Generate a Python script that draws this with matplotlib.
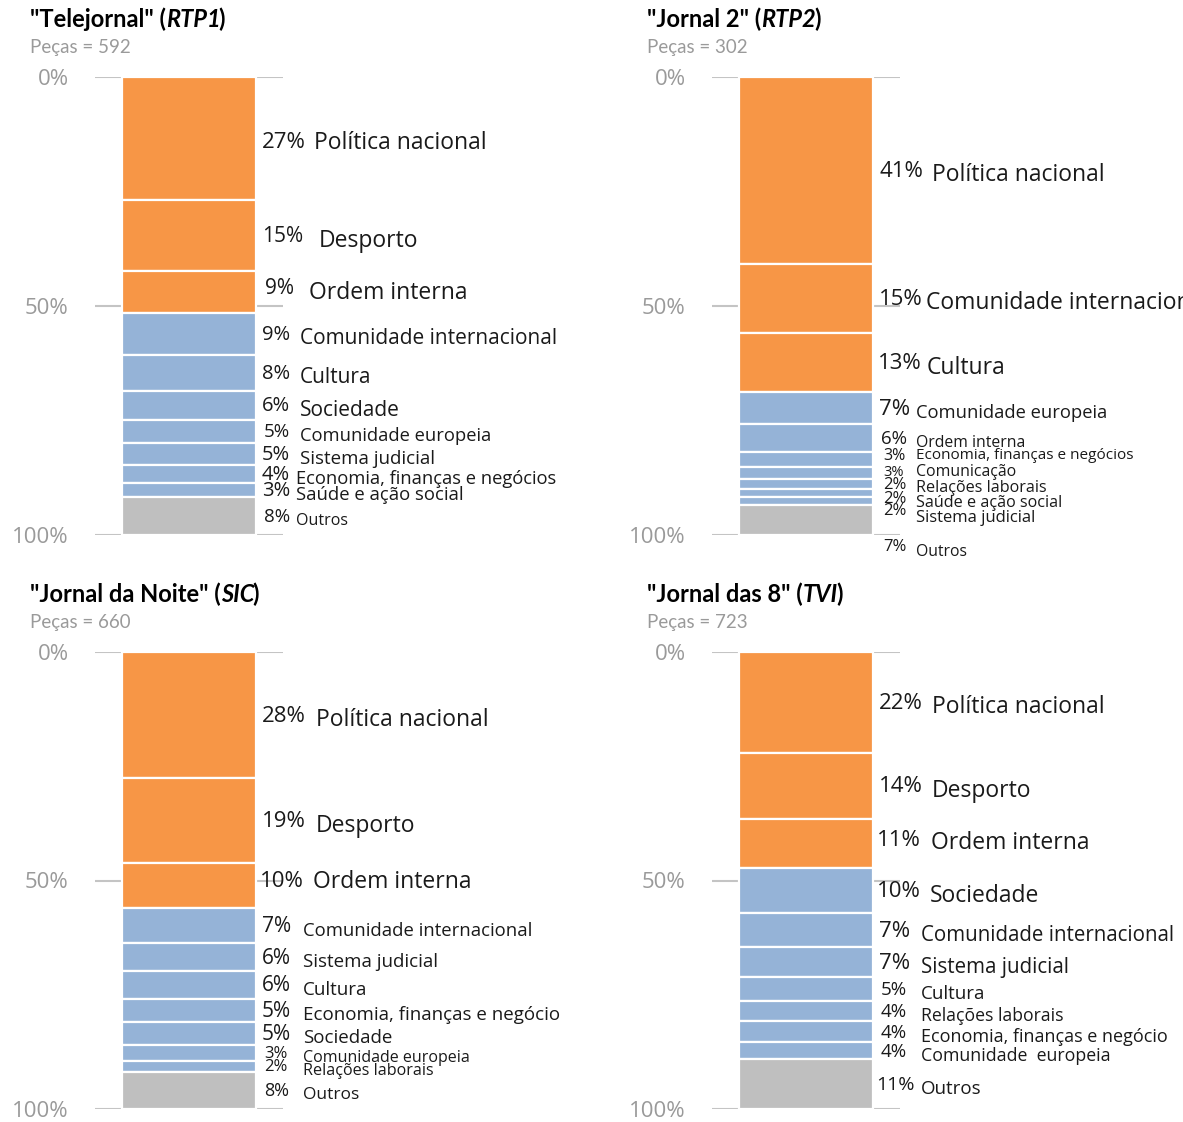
import matplotlib.pyplot as plt
import numpy as np

plt.rcParams["font.family"] = ["Open Sans", "DejaVu Sans"]

W, H = 1183, 1122
ORANGE = "#F79646"
BLUE = "#95B3D7"
GRAY = "#BFBFBF"
TICK_GRAY = "#9A9A9A"
INK = "#1a1a1a"

titles = ['"Telejornal"', '"Jornal 2"', '"Jornal da Noite"', '"Jornal das 8"']
channels = ["RTP1", "RTP2", "SIC", "TVI"]
pieces = [592, 302, 660, 723]

rtp1_topics = ["Política nacional", "Desporto", "Ordem interna", "Comunidade internacional",
               "Cultura", "Sociedade", "Comunidade europeia", "Sistema judicial",
               "Economia, finanças e negócios", "Saúde e ação social", "Outros"]
rtp1_share = [26.9, 15.5, 9.2, 9.0, 7.9, 6.3, 5.2, 4.8, 3.9, 3.1, 8.2]
rtp1_pct = [27, 15, 9, 9, 8, 6, 5, 5, 4, 3, 8]

rtp2_topics = ["Política nacional", "Comunidade internacional", "Cultura", "Comunidade europeia",
               "Ordem interna", "Economia, finanças e negócios", "Comunicação",
               "Relações laborais", "Saúde e ação social", "Sistema judicial", "Outros"]
rtp2_share = [40.8, 15.1, 12.9, 7.0, 6.1, 3.3, 2.6, 2.2, 1.7, 1.7, 6.6]
rtp2_pct = [41, 15, 13, 7, 6, 3, 3, 2, 2, 2, 7]

sic_topics = ["Política nacional", "Desporto", "Ordem interna", "Comunidade internacional",
              "Sistema judicial", "Cultura", "Economia, finanças e negócio", "Sociedade",
              "Comunidade europeia", "Relações laborais", "Outros"]
sic_share = [27.6, 18.6, 9.8, 7.7, 6.1, 6.1, 5.0, 5.0, 3.5, 2.4, 8.2]
sic_pct = [28, 19, 10, 7, 6, 6, 5, 5, 3, 2, 8]

tvi_topics = ["Política nacional", "Desporto", "Ordem interna", "Sociedade",
              "Comunidade internacional", "Sistema judicial", "Cultura", "Relações laborais",
              "Economia, finanças e negócio", "Comunidade  europeia", "Outros"]
tvi_share = [22.1, 14.4, 10.7, 10.0, 7.4, 6.6, 5.2, 4.4, 4.6, 3.7, 10.9]
tvi_pct = [22, 14, 11, 10, 7, 7, 5, 4, 4, 4, 11]

panels = [
    (rtp1_topics, rtp1_share, rtp1_pct),
    (rtp2_topics, rtp2_share, rtp2_pct),
    (sic_topics, sic_share, sic_pct),
    (tvi_topics, tvi_share, tvi_pct),
]

# label styling per panel: font sizes (pct, name) and x offsets in px from bar edge
pct_size = [
    [16, 15, 15, 14.5, 14.5, 14.5, 13.5, 14.5, 14.5, 14.5, 13.5],
    [16, 16, 16, 16, 13.5, 11.5, 10.5, 12, 12, 12, 12],
    [16, 16, 16, 15, 15, 15, 15, 15, 12, 12, 13],
    [16, 16, 16, 16, 16, 16, 13.5, 13.5, 13.5, 13.5, 14],
]
name_size = [
    [16.5, 16.5, 16.5, 15, 15, 15, 13.2, 13.5, 13.2, 13.3, 11.5],
    [16.5, 16.5, 16.5, 13.2, 11.3, 11, 11.4, 11.6, 11.6, 12, 11.3],
    [16.5, 16.5, 16.5, 13.3, 13.5, 13.5, 13.5, 13.5, 11.5, 11.6, 12.5],
    [16.5, 16.5, 16.5, 16.5, 14.8, 14.8, 13.5, 12.7, 13, 12.8, 13.5],
]
pct_dx = [
    [6, 6, 9, 6, 6, 6, 8, 6, 6, 6, 8],
    [6, 6, 5, 6, 8, 10, 10, 10, 10, 10, 10],
    [6, 6, 4, 6, 6, 6, 6, 6, 8, 8, 8],
    [6, 6, 4, 4, 6, 6, 8, 8, 8, 8, 3],
]
name_dx = [
    [58, 63, 53, 44, 44, 44, 44, 44, 40, 40, 40],
    [59, 53, 54, 43, 43, 43, 43, 43, 43, 43, 43],
    [60, 60, 57, 47, 47, 47, 47, 47, 47, 47, 47],
    [59, 59, 58, 57, 48, 48, 48, 48, 48, 48, 48],
]
# vertical nudges in px: {index: (pct_dy, name_dy)}
nudges = [
    {0: (4, 4), 2: (-4, 1)},
    {5: (-4, -4), 6: (-1, -1), 7: (1, 4), 8: (6, 10), 9: (10, 17), 10: (27, 32)},
    {2: (-4, -4)},
    {2: (-3, 0)},
]
PCT_DY, NAME_DY = 1, 5

# pixel layout: (axis left, axis top, axis bottom, title x, title baseline)
layout = [
    (95, 77, 535, 30, 27),
    (712, 77, 535, 647, 27),
    (95, 652, 1109, 30, 602),
    (712, 652, 1109, 647, 602),
]
AX_W = 188
BAR_W = 134 / 188

fig = plt.figure(figsize=(W / 100, H / 100), dpi=100)
renderer = fig.canvas.get_renderer()

for i, (topics, share, pct) in enumerate(panels):
    left, top, bottom, tx, ty = layout[i]
    px = 100 / (bottom - top)  # data units per pixel
    ax = fig.add_axes([left / W, (H - bottom) / H, AX_W / W, (bottom - top) / H])
    share = np.array(share)
    starts = np.concatenate([[0], np.cumsum(share)[:-1]])
    colors = [GRAY if t == "Outros" else (ORANGE if k < 3 else BLUE)
              for k, t in enumerate(topics)]
    ax.bar(0.5, share, bottom=starts, width=BAR_W, color=colors,
           edgecolor="white", linewidth=1.6, zorder=3)
    ax.set_xlim(0, 1)
    ax.set_ylim(100, 0)
    ax.set_yticks([0, 50, 100])
    ax.set_yticklabels(["0%", "50%", "100%"], color=TICK_GRAY, fontsize=16)
    ax.tick_params(axis="y", length=0, pad=19)
    ax.set_xticks([])
    ax.yaxis.grid(True, color="#C4C4C4", linewidth=1.5)
    ax.set_axisbelow(True)
    for s in ax.spines.values():
        s.set_visible(False)

    bar_right = 0.5 + BAR_W / 2
    for k, (t, v, p) in enumerate(zip(topics, share, pct)):
        yc = starts[k] + v / 2
        pdy, ndy = nudges[i].get(k, (PCT_DY, NAME_DY))
        ax.text(bar_right + pct_dx[i][k] / AX_W, yc + pdy * px, f"{p}%",
                fontsize=pct_size[i][k], ha="left", va="center", color=INK)
        ax.text(bar_right + name_dx[i][k] / AX_W, yc + ndy * px, t,
                fontsize=name_size[i][k], ha="left", va="center", color=INK)

    # title: "Name" (Channel) with channel in italics
    yb = 1 - ty / H
    t1 = fig.text(tx / W, yb, titles[i] + " (", fontsize=17, fontweight="bold",
                  family="Lato", ha="left", va="baseline")
    x1 = t1.get_window_extent(renderer).x1 / W
    t2 = fig.text(x1, yb, channels[i], fontsize=17, fontweight="bold", fontstyle="italic",
                  family="Lato", ha="left", va="baseline")
    x2 = t2.get_window_extent(renderer).x1 / W
    fig.text(x2 - 2 / W, yb, ")", fontsize=17, fontweight="bold",
             family="Lato", ha="left", va="baseline")
    fig.text(tx / W, 1 - (ty + 26) / H, f"Peças = {pieces[i]}", fontsize=13.5,
             family="Lato", color=TICK_GRAY, ha="left", va="baseline")

fig.savefig("out.png", dpi=100)
